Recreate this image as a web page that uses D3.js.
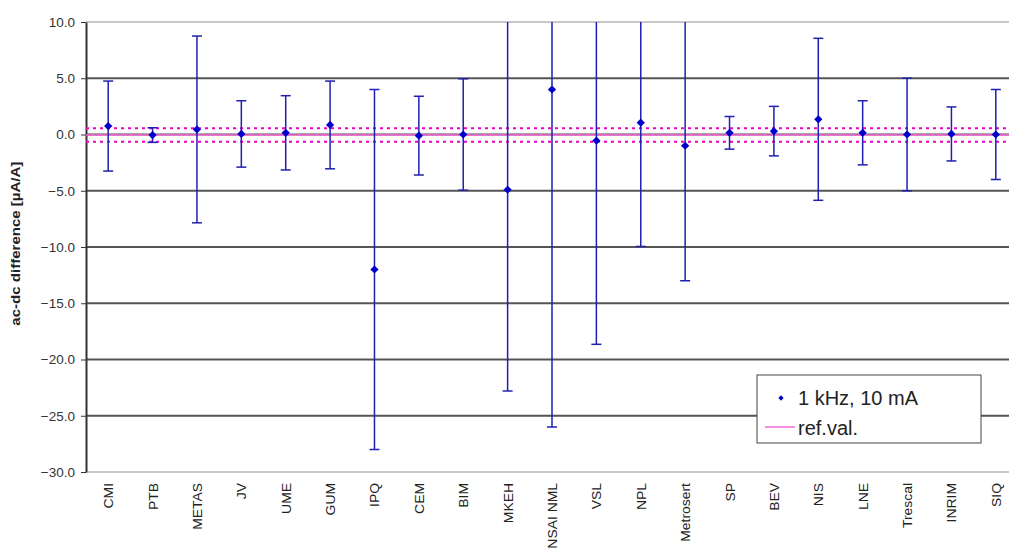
<!DOCTYPE html>
<meta charset="utf-8">
<head>
	<script src="https://cdnjs.cloudflare.com/ajax/libs/d3/7.8.5/d3.min.js"></script>
</head>
<style type="text/css">
	body { margin: 0; background: #fff; font-family: Arial, "Liberation Sans", sans-serif; }
	svg { display: block; }
	.xlab { font-size: 13px; fill: #222; }
</style>
<body>
<div id="chart"></div>
<script>
	// labs and their results (µA/A), expanded uncertainty half-widths
	var labs = ["CMI", "PTB", "METAS", "JV", "UME", "GUM", "IPQ", "CEM", "BIM", "MKEH",
		"NSAI NML", "VSL", "NPL", "Metrosert", "SP", "BEV", "NIS", "LNE", "Trescal", "INRIM", "SIQ"];
	var values = [0.75, -0.05, 0.45, 0.05, 0.15, 0.85, -12.0, -0.1, 0.0, -4.9,
		4.0, -0.55, 1.05, -1.0, 0.15, 0.3, 1.35, 0.15, 0.0, 0.05, 0.0];
	var uncert = [4.0, 0.65, 8.3, 2.95, 3.3, 3.9, 16.0, 3.5, 4.95, 17.9,
		30.0, 18.1, 11.0, 12.0, 1.45, 2.2, 7.2, 2.85, 5.0, 2.4, 4.0];
	var refVal = -0.05, refU = 0.6;
	var yTicks = [10, 5, 0, -5, -10, -15, -20, -25, -30];

	var W = 1009, H = 550;
	var margin = {top: 22, left: 86, bottom: 78, right: -9};
	var width = W - margin.left - margin.right,
		height = H - margin.top - margin.bottom;

	var svg = d3.select("#chart").append("svg")
		.attr("width", W).attr("height", H);
	var g = svg.append("g")
		.attr("transform", "translate(" + margin.left + "," + margin.top + ")");

	var x = d3.scaleBand().domain(labs).range([0, width]);
	var y = d3.scaleLinear().domain([-30, 10]).range([height, 0]);

	g.append("defs").append("clipPath").attr("id", "plotclip")
		.append("rect").attr("width", width).attr("height", height);

	// gridlines
	g.selectAll(".grid").data(yTicks).enter().append("line")
		.attr("x1", 0).attr("x2", width)
		.attr("y1", function(d) { return y(d); }).attr("y2", function(d) { return y(d); })
		.attr("stroke", function(d) { return (d == 10 || d == -30) ? "#c8c8c8" : "#555"; })
		.attr("stroke-width", 2);

	// y axis
	var yAxis = g.append("g")
		.call(d3.axisLeft(y).tickValues(yTicks).tickFormat(d3.format(".1f")).tickSize(5).tickSizeOuter(0).tickPadding(6));
	yAxis.select(".domain").attr("stroke", "#333").attr("stroke-width", 2);
	yAxis.selectAll(".tick line").attr("stroke", "#333");
	yAxis.selectAll("text").attr("font-family", "Arial, 'Liberation Sans', sans-serif").attr("font-size", 13.5).attr("fill", "#333");

	// reference value lines
	var ref = g.append("g");
	ref.append("line").attr("x1", 0).attr("x2", width)
		.attr("y1", y(refVal)).attr("y2", y(refVal))
		.attr("stroke", "#ff66dd").attr("stroke-width", 1.5);
	[refVal + refU, refVal - refU].forEach(function(v) {
		ref.append("line").attr("x1", 0).attr("x2", width)
			.attr("y1", y(v)).attr("y2", y(v))
			.attr("stroke", "#ee00cc").attr("stroke-width", 2)
			.attr("stroke-dasharray", "3,4");
	});

	// error bars
	var bars = g.append("g").attr("clip-path", "url(#plotclip)")
		.selectAll(".eb").data(labs).enter().append("g");
	var cx = function(d) { return x(d) + x.bandwidth() / 2; };
	bars.append("line")
		.attr("x1", cx).attr("x2", cx)
		.attr("y1", function(d, i) { return y(values[i] + uncert[i]); })
		.attr("y2", function(d, i) { return y(values[i] - uncert[i]); })
		.attr("stroke", "#2020b0").attr("stroke-width", 1.5);
	[1, -1].forEach(function(s) {
		bars.append("line")
			.attr("x1", function(d) { return cx(d) - 5; }).attr("x2", function(d) { return cx(d) + 5; })
			.attr("y1", function(d, i) { return y(values[i] + s * uncert[i]); })
			.attr("y2", function(d, i) { return y(values[i] + s * uncert[i]); })
			.attr("stroke", "#2020b0").attr("stroke-width", 1.5);
	});
	bars.append("path")
		.attr("d", d3.symbol().type(d3.symbolSquare).size(34))
		.attr("transform", function(d, i) { return "translate(" + cx(d) + "," + y(values[i]) + ") rotate(45)"; })
		.attr("fill", "#0000cc");

	// x labels
	g.selectAll(".xlab").data(labs).enter().append("text")
		.attr("class", "xlab")
		.attr("transform", function(d) { return "translate(" + (cx(d) + 5) + "," + (height + 11) + ") rotate(-90) scale(1.07,1)"; })
		.attr("text-anchor", "end")
		.text(function(d) { return d; });

	// y axis title
	svg.append("text")
		.attr("transform", "translate(20," + (margin.top + y(-9.7)) + ") rotate(-90)")
		.attr("text-anchor", "middle")
		.attr("font-size", 12).attr("font-weight", "bold").attr("fill", "#222")
		.attr("textLength", 164).attr("lengthAdjust", "spacingAndGlyphs")
		.text("ac-dc difference [µA/A]");

	// legend
	var lg = svg.append("g").attr("transform", "translate(757,375)");
	lg.append("rect").attr("width", 224).attr("height", 68)
		.attr("fill", "#fff").attr("stroke", "#444").attr("stroke-width", 1);
	lg.append("path").attr("d", d3.symbol().type(d3.symbolSquare).size(14))
		.attr("transform", "translate(24,23) rotate(45)").attr("fill", "#0000cc");
	lg.append("text").attr("x", 41).attr("y", 30).attr("font-size", 20).attr("fill", "#222")
		.text("1 kHz, 10 mA");
	lg.append("line").attr("x1", 8).attr("x2", 38).attr("y1", 52).attr("y2", 52)
		.attr("stroke", "#ee66dd").attr("stroke-width", 1.5);
	lg.append("text").attr("x", 41).attr("y", 60).attr("font-size", 20).attr("fill", "#222")
		.text("ref.val.");
</script>
</body>
